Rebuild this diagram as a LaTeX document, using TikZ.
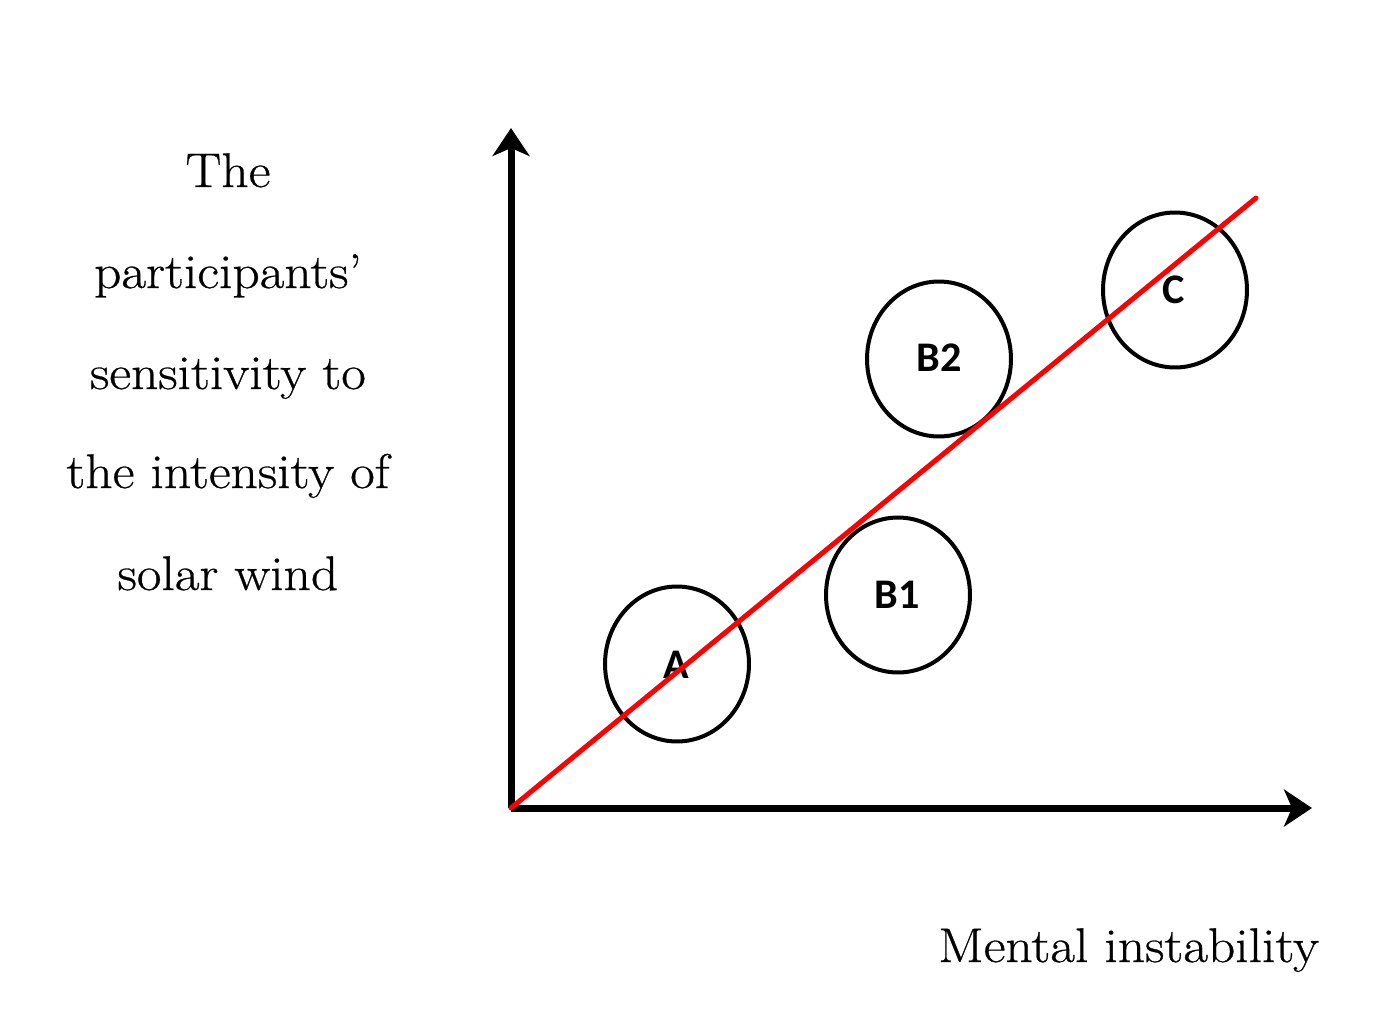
\documentclass[tikz,border=0pt]{standalone}
\usepackage{fontspec}
\newfontfamily\labfont{Carlito}
\newfontfamily\axlabelfont[FakeStretch=1.1,FakeBold=0.6,Ligatures=TeX]{Latin Modern Roman}
\usetikzlibrary{arrows.meta,shapes.geometric}
\begin{document}
\begin{tikzpicture}[x=0.02cm,y=-0.02cm,
  axis/.style={line width=0.14cm,-{Stealth[length=0.56cm,width=0.74cm,inset=0.16cm]}},
  fit line/.style={red,line width=0.1cm},
  group/.style={draw,line width=0.08cm,ellipse,minimum width=2.88cm,minimum height=3.1cm,inner sep=0pt},
  grouplabel/.style={font=\labfont\bfseries\fontsize{24}{24}\selectfont},
  ylab/.style={anchor=base,font=\axlabelfont\fontsize{27.7}{30}\selectfont},
  xlab/.style={anchor=base west,font=\axlabelfont\fontsize{27.7}{30}\selectfont}]
\useasboundingbox (0,0) rectangle (1373,1018);
\coordinate (O) at (511,808);
\coordinate (ytop) at (511,128);
\coordinate (xend) at (1312,808);
\coordinate (rend) at (1256,198);
% circles
\node[group] (A) at (677,664) {};
\node[group] (B1) at (898,595) {};
\node[group] (B2) at (939,359) {};
\node[group] (C) at (1175,290) {};
\node[grouplabel] (lA) at (676,665) {A};
\node[grouplabel] (lB1) at (897,595) {B1};
\node[grouplabel] (lB2) at (939,358) {B2};
\node[grouplabel] (lC) at (1174,290) {C};
% axes
\draw[axis] (O) -- (ytop);
\draw[axis] (O) -- (xend);
\draw[fit line,line cap=round] (O) -- (rend);
% labels
\node[ylab] (y1) at (228,187) {The};
\node[ylab] (y2) at (228,288) {participants’};
\node[ylab] (y3) at (228,389) {sensitivity to};
\node[ylab] (y4) at (228,488) {the intensity of};
\node[ylab] (y5) at (228,590) {solar wind};
\node[xlab] (xl) at (932,962) {Mental instability};
\end{tikzpicture}
\end{document}
